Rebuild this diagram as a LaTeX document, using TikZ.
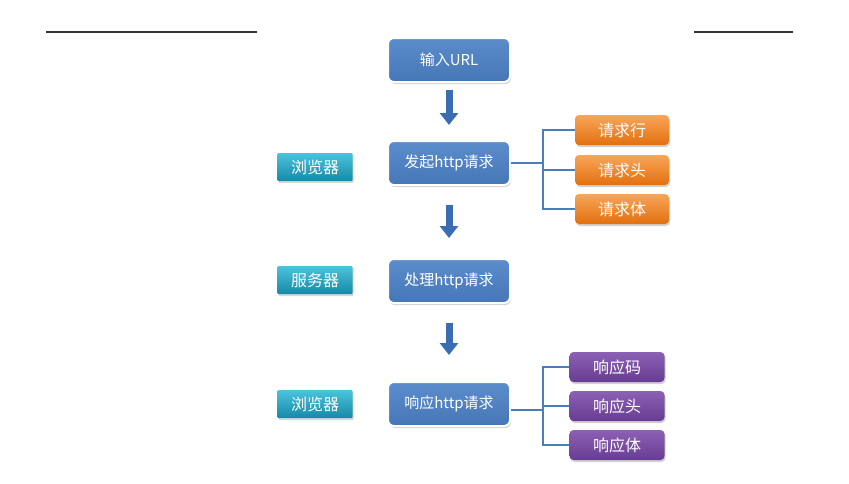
\documentclass[tikz,border=0pt]{standalone}
\usepackage{fontspec}
\setmainfont{Noto Sans CJK SC}
\usetikzlibrary{shadows,arrows.meta}
\definecolor{bluetop}{HTML}{5B8CCB}
\definecolor{bluebot}{HTML}{4676B6}
\definecolor{cyantop}{HTML}{4CC3DC}
\definecolor{cyanbot}{HTML}{1689A8}
\definecolor{orgtop}{HTML}{F8A55A}
\definecolor{orgbot}{HTML}{E2700E}
\definecolor{purtop}{HTML}{8C60B4}
\definecolor{purbot}{HTML}{683C92}
\definecolor{connblue}{HTML}{4A7EBB}
\definecolor{arrowblue}{HTML}{3A6DB3}
\definecolor{rulegray}{HTML}{353535}
\tikzset{
  mainbox/.style={rectangle, rounded corners=6pt, draw=white, line width=2pt,
    top color=bluetop, bottom color=bluebot, text=white,
    minimum width=122pt, minimum height=44pt, inner sep=0pt,
    font=\fontsize{15}{17}\selectfont,
    drop shadow={opacity=0.35, shadow xshift=1pt, shadow yshift=-2pt}},
  sidebox/.style={rectangle, rounded corners=1pt, top color=cyantop, bottom color=cyanbot,
    text=white, minimum width=75pt, minimum height=28pt, inner sep=0pt,
    font=\fontsize{16}{18}\selectfont,
    drop shadow={opacity=0.3, shadow xshift=1pt, shadow yshift=-2pt}},
  orgbox/.style={rectangle, rounded corners=4pt, top color=orgtop, bottom color=orgbot,
    text=white, minimum width=94pt, minimum height=30pt, inner sep=0pt,
    font=\fontsize{16}{18}\selectfont,
    drop shadow={opacity=0.35, shadow xshift=1pt, shadow yshift=-2pt}},
  purbox/.style={rectangle, rounded corners=4pt, top color=purtop, bottom color=purbot,
    text=white, minimum width=95pt, minimum height=30pt, inner sep=0pt,
    font=\fontsize{16}{18}\selectfont,
    drop shadow={opacity=0.35, shadow xshift=1pt, shadow yshift=-2pt}},
  conn/.style={draw=connblue, line width=2pt},
  blockarrow/.style={draw=arrowblue, line width=7pt,
    -{Triangle[width=18pt,length=12pt]}},
  rule/.style={draw=rulegray, line width=1.8pt}
}
\begin{document}
\begin{tikzpicture}[x=1pt,y=-1pt]
\useasboundingbox (0,0) rectangle (849,483);
\fill[white] (0,0) rectangle (849,483);
% top rules
\coordinate (l1) at (46,32); \coordinate (l2) at (257,32);
\coordinate (r1) at (694,32); \coordinate (r2) at (793,32);
\draw[rule] (l1) -- (l2);
\draw[rule] (r1) -- (r2);
% main column
\node[mainbox] (url)  at (449,60)  {输入URL};
\node[mainbox] (req)  at (449,163) {发起http请求};
\node[mainbox] (proc) at (449,281) {处理http请求};
\node[mainbox] (resp) at (449,404) {响应http请求};
% side labels
\node[sidebox] (b1)  at (315,167) {浏览器};
\node[sidebox] (srv) at (315,280) {服务器};
\node[sidebox] (b2)  at (315,404) {浏览器};
% request parts
\node[orgbox] (o1) at (622,130) {请求行};
\node[orgbox] (o2) at (622,170) {请求头};
\node[orgbox] (o3) at (622,209) {请求体};
% response parts
\node[purbox] (p1) at (617,367) {响应码};
\node[purbox] (p2) at (617,406) {响应头};
\node[purbox] (p3) at (617,445) {响应体};
% arrows
\draw[blockarrow, shorten <=7pt, shorten >=15pt] (url.south) -- (req.north);
\draw[blockarrow, shorten <=19pt, shorten >=20pt] (req.south) -- (proc.north);
\draw[blockarrow, shorten <=19pt, shorten >=26pt] (proc.south) -- (resp.north);
% request bracket
\coordinate (j1) at (543,163);
\draw[conn] (req.east) -- (j1);
\draw[conn] (j1) |- (o1.west);
\draw[conn] (j1) |- (o2.west);
\draw[conn] (j1) |- (o3.west);
% response bracket
\coordinate (rs) at ([yshift=-6pt]resp.east);
\coordinate (j2) at (543,410);
\draw[conn] (rs) -- (j2);
\draw[conn] (j2) |- (p1.west);
\draw[conn] (j2) |- (p2.west);
\draw[conn] (j2) |- (p3.west);
\end{tikzpicture}
\end{document}
